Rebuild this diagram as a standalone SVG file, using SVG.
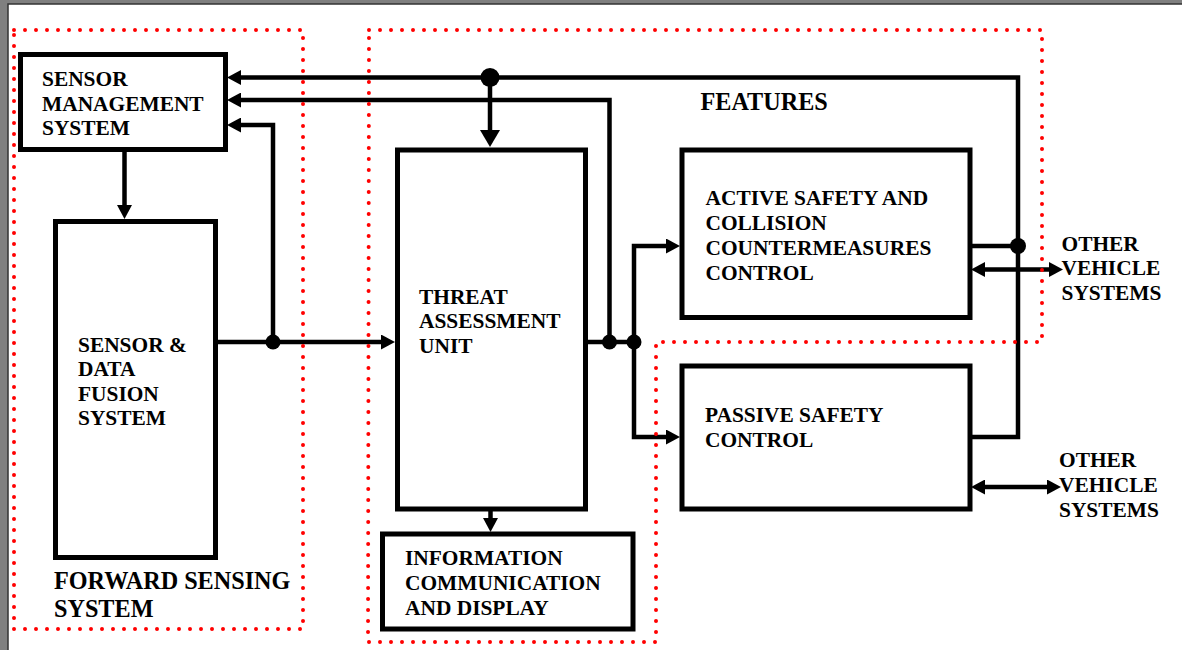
<svg xmlns="http://www.w3.org/2000/svg" width="1182" height="650" viewBox="0 0 1182 650">
  <style>
    .box { fill: #fff; stroke: #000; stroke-width: 5; }
    .wire { fill: none; stroke: #000; stroke-width: 4.5; }
    .dot { fill: #000; }
    .zone { fill: none; stroke: #ff0000; stroke-width: 4; stroke-linecap: round; stroke-dasharray: 0 11; }
    .lbl { font-family: "Liberation Serif", "Times New Roman", serif; font-weight: bold; font-size: 21.4px; fill: #000; }
    .big { font-size: 24.2px; }
  </style>
  <defs>
    <marker id="arrow" markerUnits="userSpaceOnUse" viewBox="0 0 14 15" refX="0" refY="7.5" markerWidth="14" markerHeight="15" orient="auto-start-reverse">
      <path d="M0,0 L14,7.5 L0,15 z" fill="#000"/>
    </marker>
    <marker id="arrowLarge" markerUnits="userSpaceOnUse" viewBox="0 0 17 20" refX="0" refY="10" markerWidth="17" markerHeight="20" orient="auto">
      <path d="M0,0 L17,10 L0,20 z" fill="#000"/>
    </marker>
  </defs>

  <!-- page frame -->
  <rect x="0" y="0" width="1182" height="650" fill="#808080"/>
  <rect x="8" y="4" width="1180" height="650" fill="#fff" stroke="#333" stroke-width="1.5"/>

  <!-- connectors -->
  <g id="connectors">
    <path class="wire" d="M241,77.5 H1018 V437 H972" marker-start="url(#arrow)"/>
    <path class="wire" d="M241,100 H609.5 V342" marker-start="url(#arrow)"/>
    <path class="wire" d="M241,125 H273 V342" marker-start="url(#arrow)"/>
    <path class="wire" d="M124.5,152 V205" marker-end="url(#arrow)"/>
    <path class="wire" d="M218,342 H381" marker-end="url(#arrow)"/>
    <path class="wire" d="M490,77.5 V130" marker-end="url(#arrowLarge)"/>
    <path class="wire" d="M588,342 H634"/>
    <path class="wire" d="M634,342 V246 H666" marker-end="url(#arrow)"/>
    <path class="wire" d="M634,342 V437 H666" marker-end="url(#arrow)"/>
    <path class="wire" d="M490.5,511 V518" marker-end="url(#arrow)"/>
    <path class="wire" d="M972,246 H1018"/>
    <path class="wire" d="M985,269.5 H1049" marker-start="url(#arrow)" marker-end="url(#arrow)"/>
    <path class="wire" d="M985,487 H1047" marker-start="url(#arrow)" marker-end="url(#arrow)"/>
    <circle class="dot" cx="490" cy="77.5" r="9.5"/>
    <circle class="dot" cx="273" cy="342" r="7.5"/>
    <circle class="dot" cx="609.5" cy="342" r="7.5"/>
    <circle class="dot" cx="634" cy="342" r="7.5"/>
    <circle class="dot" cx="1018" cy="246" r="8"/>
  </g>

  <!-- subsystem nodes -->
  <g id="sensor-management">
    <rect class="box" x="20.5" y="54.5" width="205" height="95"/>
    <text class="lbl" x="42" y="86">SENSOR</text>
    <text class="lbl" x="42" y="110.5">MANAGEMENT</text>
    <text class="lbl" x="42" y="135">SYSTEM</text>
  </g>

  <g id="sensor-data-fusion">
    <rect class="box" x="55.5" y="221.5" width="160" height="336"/>
    <text class="lbl" x="78" y="351.5">SENSOR &amp;</text>
    <text class="lbl" x="78" y="376">DATA</text>
    <text class="lbl" x="78" y="400.5">FUSION</text>
    <text class="lbl" x="78" y="425">SYSTEM</text>
  </g>

  <g id="threat-assessment">
    <rect class="box" x="397.5" y="150" width="188" height="359"/>
    <text class="lbl" x="419" y="303.5">THREAT</text>
    <text class="lbl" x="419" y="328">ASSESSMENT</text>
    <text class="lbl" x="419" y="352.5">UNIT</text>
  </g>

  <g id="information-display">
    <rect class="box" x="382.5" y="534" width="250.5" height="95"/>
    <text class="lbl" x="405" y="565">INFORMATION</text>
    <text class="lbl" x="405" y="590">COMMUNICATION</text>
    <text class="lbl" x="405" y="614.5">AND DISPLAY</text>
  </g>

  <g id="active-safety">
    <rect class="box" x="682" y="150" width="288" height="167.5"/>
    <text class="lbl" x="705.5" y="205">ACTIVE SAFETY AND</text>
    <text class="lbl" x="705.5" y="230">COLLISION</text>
    <text class="lbl" x="705.5" y="255">COUNTERMEASURES</text>
    <text class="lbl" x="705.5" y="280">CONTROL</text>
  </g>

  <g id="passive-safety">
    <rect class="box" x="682" y="366" width="288" height="143"/>
    <text class="lbl" x="705" y="421.5">PASSIVE SAFETY</text>
    <text class="lbl" x="705" y="447">CONTROL</text>
  </g>

  <g id="other-vehicle-systems-1">
    <text class="lbl" x="1061.5" y="250.5">OTHER</text>
    <text class="lbl" x="1061.5" y="275">VEHICLE</text>
    <text class="lbl" x="1061.5" y="300">SYSTEMS</text>
  </g>

  <g id="other-vehicle-systems-2">
    <text class="lbl" x="1059" y="466.5">OTHER</text>
    <text class="lbl" x="1059" y="491.5">VEHICLE</text>
    <text class="lbl" x="1059" y="516.5">SYSTEMS</text>
  </g>

  <!-- grouping zones -->
  <g id="forward-sensing-zone">
    <rect class="zone" x="14" y="30" width="289" height="599"/>
    <text class="lbl big" x="54" y="589">FORWARD SENSING</text>
    <text class="lbl big" x="54" y="617">SYSTEM</text>
  </g>

  <g id="features-zone">
    <path class="zone" d="M369,30 H1042 V342 H656 V642 H368 Z"/>
    <text class="lbl big" x="700.5" y="110">FEATURES</text>
  </g>
</svg>
